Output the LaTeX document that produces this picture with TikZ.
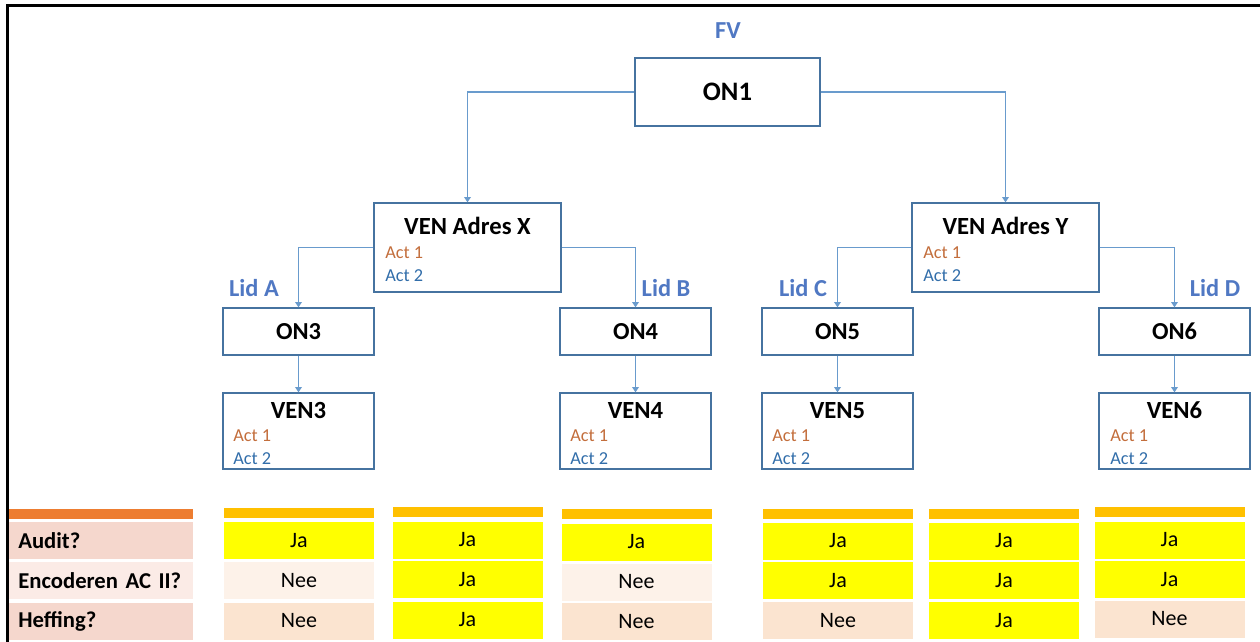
\documentclass[tikz,border=0pt]{standalone}
\usepackage{fontspec}
\setmainfont{Carlito}
\usetikzlibrary{arrows.meta}
\definecolor{boxline}{RGB}{70,115,160}
\definecolor{arrowline}{RGB}{105,155,205}
\definecolor{lidblue}{RGB}{80,120,195}
\definecolor{actone}{RGB}{195,110,60}
\definecolor{acttwo}{RGB}{50,110,170}
\definecolor{headorange}{RGB}{237,125,49}
\definecolor{headgold}{RGB}{255,192,0}
\definecolor{labdark}{RGB}{245,215,205}
\definecolor{lablight}{RGB}{251,235,230}
\definecolor{cellyes}{RGB}{255,255,0}
\definecolor{cellpale}{RGB}{253,242,233}
\definecolor{cellpeach}{RGB}{251,228,208}
\tikzset{
  onbox/.style={draw=boxline, line width=0.9pt, fill=white, inner sep=0pt,
    minimum width=113.25pt, minimum height=35.25pt, font=\fontsize{18.3}{20}\selectfont\bfseries},
  venbox/.style={draw=boxline, line width=0.9pt, fill=white, inner sep=0pt,
    minimum width=113.25pt, minimum height=57pt},
  ventitle/.style={inner sep=0pt, font=\fontsize{18.5}{20}\selectfont\bfseries},
  actA/.style={anchor=west, inner sep=0pt, text=actone, font=\fontsize{13.7}{15}\selectfont},
  actB/.style={anchor=west, inner sep=0pt, text=acttwo, font=\fontsize{13.7}{15}\selectfont},
  lid/.style={inner sep=0pt, text=lidblue, font=\fontsize{18.3}{20}\selectfont\bfseries},
  link/.style={draw=arrowline, line width=0.9pt, -{Triangle[width=5pt,length=4pt]}},
  bar/.style={inner sep=0pt, minimum width=112.5pt, minimum height=7.5pt, fill=headgold},
  cell/.style={inner sep=0pt, minimum width=112.5pt, minimum height=27.75pt,
    font=\fontsize{16.5}{18}\selectfont},
  yes/.style={cell, fill=cellyes},
  pale/.style={cell, fill=cellpale},
  peach/.style={cell, fill=cellpeach},
  labcell/.style={inner sep=0pt, minimum width=138pt, minimum height=27.75pt,
    font=\fontsize{17}{18}\selectfont\bfseries, text width=124pt, align=left},
}
\begin{document}
\begin{tikzpicture}[x=0.75pt, y=-0.75pt]
  \useasboundingbox (0,0) rectangle (1260,642);
  \draw[line width=1.6pt] (7.5,642) -- (7.5,5.5) -- (1260,5.5);

  % tree
  \node[lid] (fv) at (728,31) {FV};
  \node[onbox, minimum width=138.75pt, minimum height=51pt,
    font=\fontsize{20}{22}\selectfont\bfseries] (on1) at (727.5,92) {ON1};

  \node[venbox, minimum width=140.25pt, minimum height=66.75pt] (venx) at (467.5,247.5) {};
  \node[ventitle] (venxt) at (467.5,226) {VEN Adres X};
  \node[actA] (venxa) at (385,252.5) {Act 1};
  \node[actB] (venxb) at (385,275.5) {Act 2};

  \node[venbox, minimum width=140.25pt, minimum height=66.75pt] (veny) at (1005.5,247.5) {};
  \node[ventitle] (venyt) at (1005.5,226) {VEN Adres Y};
  \node[actA] (venya) at (923,252.5) {Act 1};
  \node[actB] (venyb) at (923,275.5) {Act 2};

  \node[lid] (lida) at (254,288) {Lid A};
  \node[lid] (lidb) at (666,288) {Lid B};
  \node[lid] (lidc) at (803,288) {Lid C};
  \node[lid] (lidd) at (1215,288) {Lid D};

  \node[onbox] (on3) at (298.5,331.5) {ON3};
  \node[onbox] (on4) at (635.5,331.5) {ON4};
  \node[onbox] (on5) at (837.5,331.5) {ON5};
  \node[onbox] (on6) at (1174.5,331.5) {ON6};

  \node[venbox] (ven3) at (298.5,431) {};
  \node[ventitle] (ven3t) at (298.5,410.5) {VEN3};
  \node[actA] (ven3a) at (233,435.7) {Act 1};
  \node[actB] (ven3b) at (233,458.5) {Act 2};

  \node[venbox] (ven4) at (635.5,431) {};
  \node[ventitle] (ven4t) at (635.5,410.5) {VEN4};
  \node[actA] (ven4a) at (570,435.7) {Act 1};
  \node[actB] (ven4b) at (570,458.5) {Act 2};

  \node[venbox] (ven5) at (837.5,431) {};
  \node[ventitle] (ven5t) at (837.5,410.5) {VEN5};
  \node[actA] (ven5a) at (772,435.7) {Act 1};
  \node[actB] (ven5b) at (772,458.5) {Act 2};

  \node[venbox] (ven6) at (1174.5,431) {};
  \node[ventitle] (ven6t) at (1174.5,410.5) {VEN6};
  \node[actA] (ven6a) at (1110,435.7) {Act 1};
  \node[actB] (ven6b) at (1110,458.5) {Act 2};

  \begin{scope}[link]
    \draw (on1.west) -| (venx.north);
    \draw (on1.east) -| (veny.north);
    \draw (venx.west) -| (on3.north);
    \draw (venx.east) -| (on4.north);
    \draw (veny.west) -| (on5.north);
    \draw (veny.east) -| (on6.north);
    \draw (on3) -- (ven3);
    \draw (on4) -- (ven4);
    \draw (on5) -- (ven5);
    \draw (on6) -- (ven6);
  \end{scope}

  % table
  \node[inner sep=0pt, minimum width=138pt, minimum height=7.5pt, fill=headorange] (lab0) at (101,514) {};
  \node[labcell, fill=labdark] (labaudit) at (101,540.5) {Audit?};
  \node[labcell, fill=lablight] (labenc) at (101,580.5) {Encoderen AC II?};
  \node[labcell, fill=labdark] (labhef) at (101,621) {Heffing?};

  \node[bar] (c1h) at (299,513) {};
  \node[yes] (c1a) at (299,540.5) {Ja};
  \node[pale] (c1e) at (299,580.5) {Nee};
  \node[peach] (c1f) at (299,621) {Nee};

  \node[bar] (c2h) at (467.5,512) {};
  \node[yes] (c2a) at (467.5,540) {Ja};
  \node[yes] (c2e) at (467.5,579.5) {Ja};
  \node[yes] (c2f) at (467.5,620) {Ja};

  \node[bar] (c3h) at (636.5,514) {};
  \node[yes] (c3a) at (636.5,542) {Ja};
  \node[pale] (c3e) at (636.5,582) {Nee};
  \node[peach] (c3f) at (636.5,621.5) {Nee};

  \node[bar] (c4h) at (838,514) {};
  \node[yes] (c4a) at (838,541) {Ja};
  \node[yes] (c4e) at (838,580.5) {Ja};
  \node[peach] (c4f) at (838,620.5) {Nee};

  \node[bar] (c5h) at (1004,514) {};
  \node[yes] (c5a) at (1004,541) {Ja};
  \node[yes] (c5e) at (1004,580.5) {Ja};
  \node[yes] (c5f) at (1004,620.5) {Ja};

  \node[bar] (c6h) at (1169.5,512) {};
  \node[yes] (c6a) at (1169.5,540) {Ja};
  \node[yes] (c6e) at (1169.5,579.5) {Ja};
  \node[peach] (c6f) at (1169.5,619) {Nee};
\end{tikzpicture}
\end{document}
